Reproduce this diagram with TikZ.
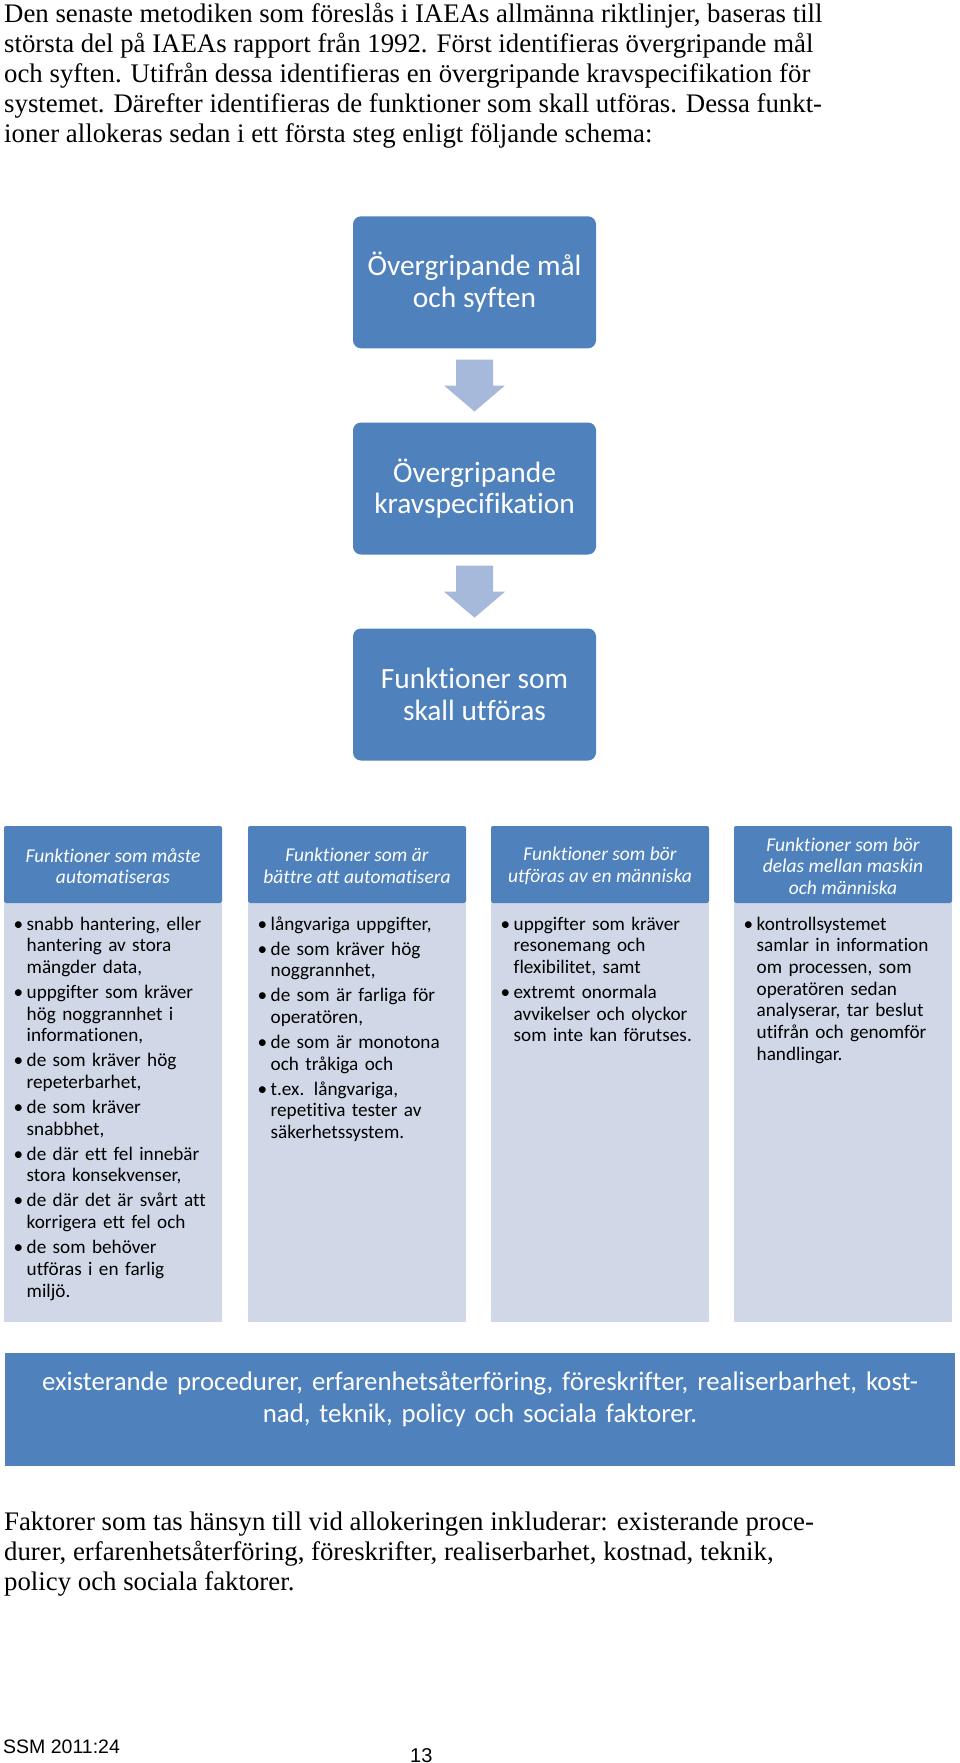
\documentclass[tikz,border=0pt]{standalone}
\usepackage{fontspec}
\setmainfont{Liberation Serif}
\newfontfamily\calfont[Ligatures=NoCommon]{Carlito}
\newfontfamily\arialfont{Liberation Sans}
\usetikzlibrary{calc}
\definecolor{boxblue}{HTML}{4F81BD}
\definecolor{arrowblue}{HTML}{A7B9DA}
\definecolor{bodyblue}{HTML}{D0D8E8}
\newcommand\itmA{\hangindent=11pt\hangafter=1\noindent\makebox[11pt][l]{\hspace{-2pt}•}}
\newcommand\itm{\par\itmA}
\begin{document}
\begin{tikzpicture}[x=1pt,y=-1pt,
  serif/.style={font=\fontsize{26.8}{30}\selectfont, inner sep=0pt, anchor=base west},
  bigbox/.style={fill=boxblue, rounded corners=8pt, minimum width=243pt, minimum height=132pt, inner sep=0pt, text=white, align=center, font=\calfont\fontsize{29.4}{31.5}\selectfont},
  flowarrow/.style={fill=arrowblue},
  hdr/.style={fill=boxblue, rounded corners=2pt, minimum width=218pt, minimum height=77pt, inner sep=0pt},
  colbody/.style={fill=bodyblue, minimum width=218pt, minimum height=419pt, inner sep=0pt},
  hdrtext/.style={text=white, align=center, inner sep=0pt, font=\calfont\itshape\fontsize{19.5}{21.5}\selectfont},
  bodytext/.style={text width=205pt, inner sep=0pt, anchor=base west, font=\calfont\fontsize{19.2}{21.7}\selectfont},
]
\useasboundingbox (0,0) rectangle (960,1763);
\fill[white] (0,0) rectangle (960,1763);

% top paragraph
\node[serif] (t1) at (4,23) {Den senaste metodiken som föreslås i IAEAs allmänna riktlinjer, baseras till};
\node[serif] (t2) at (4,53) {största del på IAEAs rapport från 1992. Först identifieras övergripande mål};
\node[serif] (t3) at (4,83) {och syften. Utifrån dessa identifieras en övergripande kravspecifikation för};
\node[serif] (t4) at (4,113) {systemet. Därefter identifieras de funktioner som skall utföras. Dessa funkt-};
\node[serif] (t5) at (4,143) {ioner allokeras sedan i ett första steg enligt följande schema:};

% flow boxes
\node[bigbox] (b1) at (474.5,282.3) {Övergripande mål\\och syften};
\node[bigbox] (b2) at (474.5,488.5) {Övergripande\\kravspecifikation};
\node[bigbox] (b3) at (474.5,694.5) {Funktioner som\\skall utföras};

\fill[flowarrow] ($(b1.south)+(-18.5,11)$) -- ++(37,0) -- ++(0,26) -- ++(12,0)
  -- ($(b1.south)+(0,63)$) -- ($(b1.south)+(-30.5,37)$) -- ++(12,0) -- cycle;
\fill[flowarrow] ($(b2.south)+(-18.5,11)$) -- ++(37,0) -- ++(0,26) -- ++(12,0)
  -- ($(b2.south)+(0,63)$) -- ($(b2.south)+(-30.5,37)$) -- ++(12,0) -- cycle;

% columns
\node[colbody] (c1) at (113,1112.5) {};
\node[colbody] (c2) at (357,1112.5) {};
\node[colbody] (c3) at (600,1112.5) {};
\node[colbody] (c4) at (843,1112.5) {};
\node[hdr] (h1) at (113,864.5) {};
\node[hdr] (h2) at (357,864.5) {};
\node[hdr] (h3) at (600,864.5) {};
\node[hdr] (h4) at (843,864.5) {};

\node[hdrtext] (ht1) at (113,866) {Funktioner som måste\\automatiseras};
\node[hdrtext] (ht2) at (357,866) {Funktioner som är\\bättre att automatisera};
\node[hdrtext] (ht3) at (600,866) {Funktioner som bör\\utföras av en människa};
\node[hdrtext] (ht4) at (843,866) {Funktioner som bör\\delas mellan maskin\\och människa};

\node[bodytext] (l1) at (15.5,930) {\raggedright\setlength\parskip{3.3pt}%
\itmA snabb hantering, eller\newline hantering av stora\newline mängder data,
\itm uppgifter som kräver\newline hög noggrannhet i\newline informationen,
\itm de som kräver hög\newline repeterbarhet,
\itm de som kräver\newline snabbhet,
\itm de där ett fel innebär\newline stora konsekvenser,
\itm de där det är svårt att\newline korrigera ett fel och
\itm de som behöver\newline utföras i en farlig\newline miljö.\par};

\node[bodytext] (l2) at (259.5,930) {\raggedright\setlength\parskip{3.3pt}%
\itmA långvariga uppgifter,
\itm de som kräver hög\newline noggrannhet,
\itm de som är farliga för\newline operatören,
\itm de som är monotona\newline och tråkiga och
\itm t.ex. långvariga,\newline repetitiva tester av\newline säkerhetssystem.\par};

\node[bodytext] (l3) at (502.5,930) {\raggedright\setlength\parskip{3.3pt}%
\itmA uppgifter som kräver\newline resonemang och\newline flexibilitet, samt
\itm extremt onormala\newline avvikelser och olyckor\newline som inte kan förutses.\par};

\node[bodytext] (l4) at (745.5,930) {\raggedright\setlength\parskip{3.3pt}%
\itmA kontrollsystemet\newline samlar in information\newline om processen, som\newline operatören sedan\newline analyserar, tar beslut\newline utifrån och genomför\newline handlingar.\par};

% factors box
\node[fill=boxblue, minimum width=950pt, minimum height=113pt, inner sep=0pt] (fb) at (480,1409.5) {};
\node[text=white, align=center, text width=930pt, inner sep=0pt, anchor=base,
  font=\calfont\fontsize{26.8}{32}\selectfont] (ft) at (480,1390)
  {existerande procedurer, erfarenhetsåterföring, föreskrifter, realiserbarhet, kost-\\nad, teknik, policy och sociala faktorer.};

% bottom paragraph
\node[serif] (p1) at (4,1530) {Faktorer som tas hänsyn till vid allokeringen inkluderar: existerande proce-};
\node[serif] (p2) at (4,1560) {durer, erfarenhetsåterföring, föreskrifter, realiserbarhet, kostnad, teknik,};
\node[serif] (p3) at (4,1590) {policy och sociala faktorer.};

% footer
\node[inner sep=0pt, anchor=base west, font=\arialfont\fontsize{19.5}{22}\selectfont] (f1) at (3,1753) {SSM 2011:24};
\node[inner sep=0pt, anchor=base west, font=\arialfont\fontsize{20}{22}\selectfont] (f2) at (410,1762) {13};
\end{tikzpicture}
\end{document}
